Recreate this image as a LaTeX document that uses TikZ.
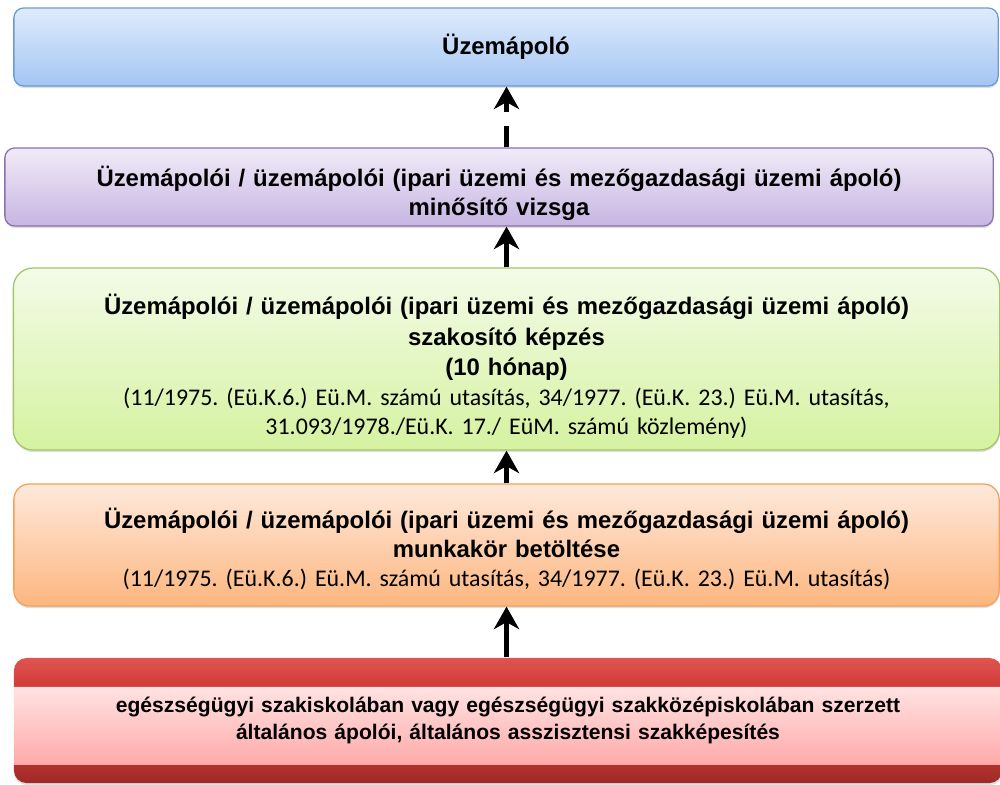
\documentclass[tikz,border=0pt]{standalone}
\usepackage{fontspec}
\setmainfont{Liberation Sans}
\newfontfamily\calibri{Carlito}
\usetikzlibrary{arrows.meta,shadows}
\definecolor{kekfel}{HTML}{E0ECFC}
\definecolor{kekle}{HTML}{A3C5F3}
\definecolor{kekvonal}{HTML}{6A9BD8}
\definecolor{lilafel}{HTML}{F0EBF7}
\definecolor{lilale}{HTML}{C7B5E2}
\definecolor{lilavonal}{HTML}{8A72AE}
\definecolor{zoldfel}{HTML}{F3FBE8}
\definecolor{zoldle}{HTML}{D5F2A0}
\definecolor{zoldvonal}{HTML}{A4C467}
\definecolor{narancsfel}{HTML}{FEE9DC}
\definecolor{narancsle}{HTML}{FDB67F}
\definecolor{narancsvonal}{HTML}{F7A055}
\definecolor{vorosfel}{HTML}{DE5550}
\definecolor{vorosfel2}{HTML}{D23B38}
\definecolor{rozsafel}{HTML}{FFE3E3}
\definecolor{rozsale}{HTML}{FFAAAA}
\definecolor{vorosle}{HTML}{B3332E}
\definecolor{vorosle2}{HTML}{9E2A27}
\pgfdeclareverticalshading{vorossav}{100bp}{color(0bp)=(vorosle2); color(25bp)=(vorosle2);
  color(32.5bp)=(vorosle); color(32.6bp)=(rozsale); color(63.7bp)=(rozsafel);
  color(63.8bp)=(vorosfel2); color(75bp)=(vorosfel); color(100bp)=(vorosfel)}

\begin{document}
\begin{tikzpicture}[
    x=0.025cm, y=-0.025cm,
    stage/.style={rectangle, rounded corners=7pt, line width=0.9pt, inner sep=0pt,
      align=center, text width=23.8cm, font=\fontsize{17}{20.5}\selectfont\bfseries\frenchspacing,
      drop shadow={shadow xshift=0.3pt, shadow yshift=-1.5pt, opacity=0.25}},
    nyil/.style={line width=3.5pt, -{Stealth[length=16pt, width=18pt, inset=5pt]}}
]
\useasboundingbox (0,0) rectangle (1000,784);

\node[stage, draw=kekvonal, top color=kekfel, bottom color=kekle,
      minimum width=24.6cm, minimum height=1.95cm] (uzemapolo) at (506,47) {Üzemápoló};
\node[stage, draw=lilavonal, top color=lilafel, bottom color=lilale,
      minimum width=24.7cm, minimum height=1.95cm] (vizsga) at (499,187)
  {\rule{0pt}{23pt}Üzemápolói / üzemápolói (ipari üzemi és mezőgazdasági üzemi ápoló)\\ minősítő vizsga};
\node[stage, draw=zoldvonal, top color=zoldfel, bottom color=zoldle, rounded corners=14pt,
      minimum width=24.65cm, minimum height=4.55cm] (kepzes) at (506.5,359)
  {\rule{0pt}{25pt}Üzemápolói / üzemápolói (ipari üzemi és mezőgazdasági üzemi ápoló)\\[1pt]
   szakosító képzés\\[1pt] (10 hónap)\\[1pt]
   \calibri\mdseries (11/1975. (Eü.K.6.) Eü.M. számú utasítás, 34/1977. (Eü.K. 23.) Eü.M. utasítás,\\
   31.093/1978./Eü.K. 17./ EüM. számú közlemény)};
\node[stage, draw=narancsvonal, top color=narancsfel, bottom color=narancsle, rounded corners=11pt,
      minimum width=24.625cm, minimum height=3.05cm] (munkakor) at (506.5,545)
  {\rule{0pt}{20pt}Üzemápolói / üzemápolói (ipari üzemi és mezőgazdasági üzemi ápoló)\\ munkakör betöltése\\
   \calibri\mdseries (11/1975. (Eü.K.6.) Eü.M. számú utasítás, 34/1977. (Eü.K. 23.) Eü.M. utasítás)};
\node[stage, shading=vorossav, rounded corners=9pt, font=\fontsize{15}{19}\selectfont\bfseries,
      minimum width=24.7cm, minimum height=3.125cm] (alap) at (508,720.5)
  {egészségügyi szakiskolában vagy egészségügyi szakközépiskolában szerzett\\
   általános ápolói, általános asszisztensi szakképesítés};

\draw[nyil, dash pattern=on 15pt off 10.5pt on 40pt] (vizsga.north -| kepzes.north) -- (uzemapolo.south -| kepzes.north);
\draw[nyil] (kepzes.north) -- (vizsga.south -| kepzes.north);
\draw[nyil] (munkakor.north -| kepzes.north) -- (kepzes.south);
\draw[nyil] (alap.north -| kepzes.north) -- (munkakor.south -| kepzes.north);
\end{tikzpicture}
\end{document}
